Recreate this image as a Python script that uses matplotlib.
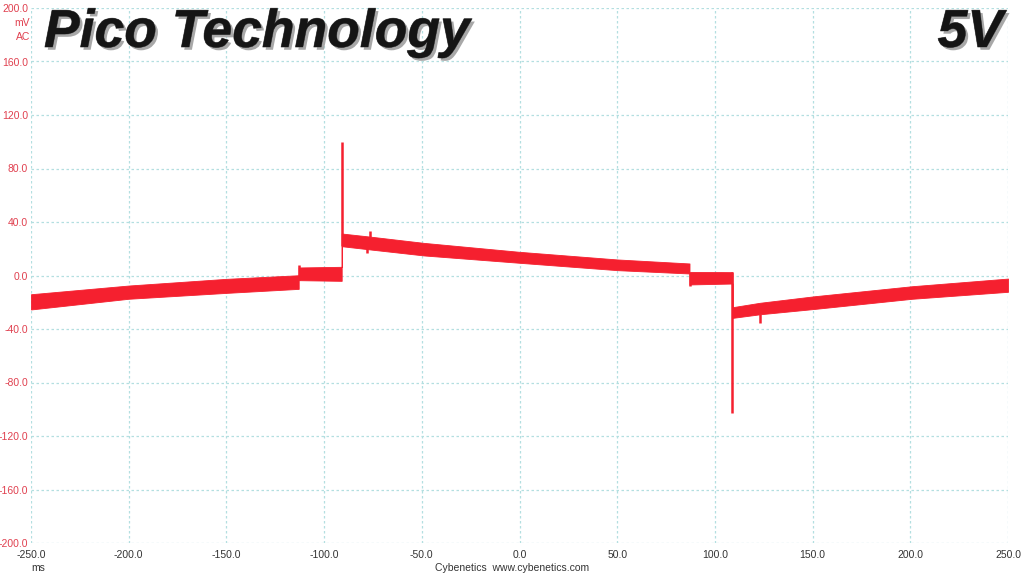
import matplotlib
matplotlib.use("Agg")
import matplotlib.pyplot as plt
import matplotlib.patheffects as pe

# trace envelope (ms, mV)
t = [-250, -200, -150, -113, -113, -91, -91, -76, -49, 0, 50, 87, 87, 109, 109, 123, 151, 201, 250]
upper = [-14, -7.5, -2.5, 0.2, 6, 6.5, 31.4, 29, 24.4, 17.7, 12, 9, 2.7, 2.5, -23.7, -20.4, -15.5, -8, -2.3]
lower = [-25.4, -17.4, -13, -10, -3.5, -4, 21.9, 19.4, 15, 9.5, 4, 1.5, -6.7, -6, -31.7, -29, -25, -17.4, -12.2]

# transient spikes: time, from, to
spike_t = [-91, 109, -113, -76.5, -78, 87.2, 123]
spike_lo = [21.9, -102.7, -3.5, 29, 17, -8, -35.4]
spike_hi = [99.5, 2.5, 8, 33, 22, 1.5, -29]

xticks = [-250, -200, -150, -100, -50, 0, 50, 100, 150, 200, 250]
yticks = [-200, -160, -120, -80, -40, 0, 40, 80, 120, 160, 200]

red = "#f5202f"
grid_c = "#b3dfe0"

fig = plt.figure(figsize=(10.24, 5.76), dpi=100)
ax = fig.add_axes([31 / 1024, 1 - 543 / 576, 977 / 1024, 535 / 576])

ax.fill_between(t, lower, upper, color=red, lw=0.6, edgecolor=red)
ax.vlines(spike_t, spike_lo, spike_hi, color=red, lw=1.8)

ax.set_xlim(-250, 250)
ax.set_ylim(-200, 200)
ax.set_xticks(xticks)
ax.set_yticks(yticks)
ax.set_xticklabels([f"{v:.1f}" for v in xticks])
ax.set_yticklabels([f"{v:.1f}" for v in yticks])
ax.grid(True, color=grid_c, ls=(0, (2, 2)), lw=0.9)
ax.set_axisbelow(True)
for s in ax.spines.values():
    s.set_visible(False)
ax.tick_params(axis="both", length=0, labelsize=7.5)
ax.tick_params(axis="y", colors="#e0404f", pad=2)
ax.tick_params(axis="x", colors="#333333", pad=5)
for lbl in ax.get_xticklabels() + ax.get_yticklabels():
    lbl.set_family("Liberation Sans")

fig.text(30 / 1024, 1 - 23 / 576, "mV", color="#e0404f", fontsize=7.5, ha="right", va="center", family="Liberation Sans")
fig.text(30 / 1024, 1 - 37 / 576, "AC", color="#e0404f", fontsize=7.5, ha="right", va="center", family="Liberation Sans")
fig.text(31 / 1024, 1 - 568 / 576, "ms", color="#333333", fontsize=7.5, ha="left", va="center", family="Liberation Sans")
fig.text(0.5, 1 - 568 / 576, "Cybenetics  www.cybenetics.com", color="#333333", fontsize=7.5,
         ha="center", va="center", family="Liberation Sans")

shadow = [pe.withSimplePatchShadow(offset=(2, -2), shadow_rgbFace="#a8a8a8", alpha=1.0),
          pe.Stroke(linewidth=0.6, foreground="#666666"), pe.Normal()]
fig.text(44 / 1024, 1 - 33 / 576, "Pico Technology", fontsize=38.5, fontweight="bold", fontstyle="italic",
         family="Liberation Sans", color="#151515", ha="left", va="center", path_effects=shadow)
fig.text(1003 / 1024, 1 - 33 / 576, "5V", fontsize=38.5, fontweight="bold", fontstyle="italic",
         family="Liberation Sans", color="#151515", ha="right", va="center", path_effects=shadow)

fig.savefig("out.png", dpi=100)
